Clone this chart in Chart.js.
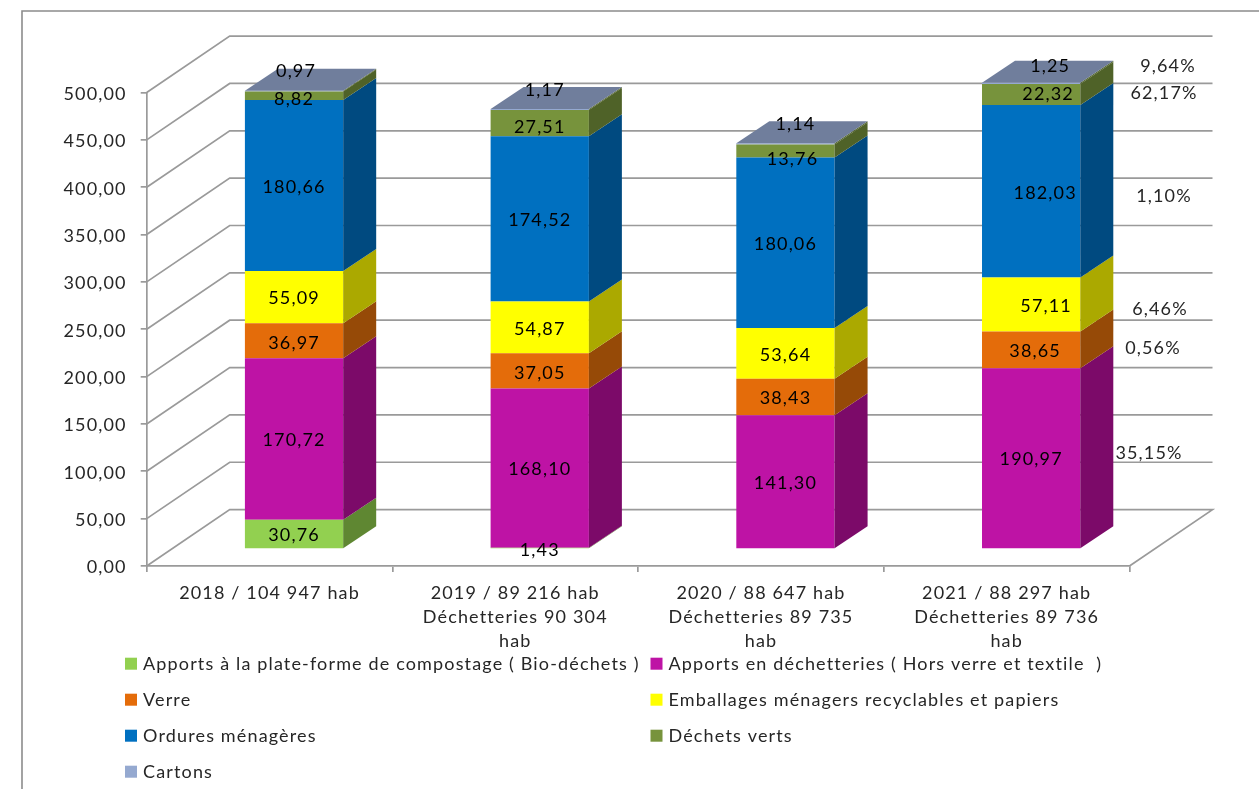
<!DOCTYPE html>
<html lang="fr">
<head>
<meta charset="utf-8">
<title>Tonnages</title>
<script src="https://cdn.jsdelivr.net/npm/chart.js@4/dist/chart.umd.min.js"></script>
<style>html,body{margin:0;padding:0;background:#fff;overflow:hidden}canvas{display:block}</style>
</head>
<body>
<canvas id="c" width="1259" height="789"></canvas>
<script>
const categories = [
  ['2018 / 104 947 hab'],
  ['2019 / 89 216 hab', 'Déchetteries 90 304', 'hab'],
  ['2020 / 88 647 hab', 'Déchetteries 89 735', 'hab'],
  ['2021 / 88 297 hab', 'Déchetteries 89 736', 'hab']
];
const bioDechets = [30.76, 1.43, null, null];
const dechetteries = [170.72, 168.10, 141.30, 190.97];
const verre = [36.97, 37.05, 38.43, 38.65];
const emballages = [55.09, 54.87, 53.64, 57.11];
const ordures = [180.66, 174.52, 180.06, 182.03];
const dechetsVerts = [8.82, 27.51, 13.76, 22.32];
const cartons = [0.97, 1.17, 1.14, 1.25];
const seriesNames = [
  'Apports à la plate-forme de compostage ( Bio-déchets )',
  'Apports en déchetteries ( Hors verre et textile  )',
  'Verre',
  'Emballages ménagers recyclables et papiers',
  'Ordures ménagères',
  'Déchets verts',
  'Cartons'
];
const frontColors = ['#92D050', '#BE13A5', '#E46C0A', '#FFFF00', '#0070C0', '#77933C', '#95A9D0'];
const sideColors = ['#5F8732', '#7C0A69', '#964A07', '#ABA900', '#004A80', '#4F6228', '#4F6228'];
const topColor = '#707E9C';
const shareLabels = ['9,64%', '62,17%', '1,10%', '6,46%', '0,56%', '35,15%'];

const FAMILY = 'Lato, "Open Sans", sans-serif';
const FONT = '18px ' + FAMILY;
const SPACING = '1.15px';
const TEXT = '#262626';
const LINE = '#9A9A9A';
const TEXT_DROP = 1.5;
const fr = v => v.toFixed(2).replace('.', ',');

// 3D projection offsets, in pixels
const WALL = {dx: 83, dy: -56.4};
const BAR = {dx: 24.5, dy: -17};
const DEPTH = {dx: 33, dy: -22};

// nudges of the data labels away from the segment centres: [series][category] = [dx, dy]
const labelNudge = {
  0: {1: [0, 1]},
  2: {0: [0, 1], 1: [0, 1], 3: [4, 0]},
  3: {3: [15, 0]},
  4: {3: [14, 0]},
  5: {0: [0, 2], 1: [0, 3], 2: [7, 7], 3: [17, -2]},
  6: {0: [2, -21], 1: [5, -21], 2: [10, -21], 3: [19, -19]}
};
// places of the free percentage notes
const sharePos = [[1168, 65], [1164, 92], [1164, 195], [1160, 308], [1153, 347], [1149, 452]];

const view3d = {
  id: 'view3d',
  beforeDraw(chart) {
    const c = chart.ctx;
    c.letterSpacing = SPACING;
    // lower the y tick labels a little: this face sits high on its middle line
    const y = chart.scales.y;
    const items = y.getLabelItems(chart.chartArea);
    if (!items._dropped) {
      items.forEach(it => { it.options.translation[1] += TEXT_DROP; });
      items._dropped = true;
    }
    c.save();
    c.fillStyle = '#fff';
    c.fillRect(0, 0, chart.width, chart.height);
    c.strokeStyle = '#8C8C8C';
    c.lineWidth = 1.6;
    c.beginPath();
    c.moveTo(22, chart.height);
    c.lineTo(22, 11);
    c.lineTo(chart.width, 11);
    c.stroke();
    c.restore();
  },
  beforeDatasetsDraw(chart) {
    const c = chart.ctx, y = chart.scales.y, a = chart.chartArea;
    c.save();
    c.strokeStyle = LINE;
    c.lineWidth = 1.7;
    y.ticks.forEach(t => {
      const py = y.getPixelForValue(t.value);
      c.beginPath();
      c.moveTo(a.left, py);
      c.lineTo(a.left + WALL.dx, py + WALL.dy);
      c.lineTo(a.right + WALL.dx, py + WALL.dy);
      if (t.value === 0) c.lineTo(a.right, py);
      c.stroke();
    });
    c.restore();
  },
  beforeDatasetDraw(chart) {
    chart.ctx.save();
    chart.ctx.translate(BAR.dx, BAR.dy);
  },
  afterDatasetDraw(chart) {
    chart.ctx.restore();
  },
  afterDatasetsDraw(chart) {
    const c = chart.ctx;
    c.save();
    c.translate(BAR.dx, BAR.dy);
    const n = chart.data.datasets.length;
    // side faces and top
    for (let d = 0; d < n; d++) {
      const meta = chart.getDatasetMeta(d);
      meta.data.forEach((b, i) => {
        if (chart.data.datasets[d].data[i] == null) return;
        const p = b.getProps(['x', 'y', 'base', 'width'], true);
        const r = p.x + p.width / 2, l = p.x - p.width / 2;
        c.fillStyle = sideColors[d];
        c.beginPath();
        c.moveTo(r, p.y);
        c.lineTo(r + DEPTH.dx, p.y + DEPTH.dy);
        c.lineTo(r + DEPTH.dx, p.base + DEPTH.dy);
        c.lineTo(r, p.base);
        c.closePath();
        c.fill();
        if (d === n - 1) {
          c.fillStyle = topColor;
          c.beginPath();
          c.moveTo(l, p.y);
          c.lineTo(l + DEPTH.dx, p.y + DEPTH.dy);
          c.lineTo(r + DEPTH.dx, p.y + DEPTH.dy);
          c.lineTo(r, p.y);
          c.closePath();
          c.fill();
        }
      });
    }
    // data labels
    c.font = FONT;
    c.fillStyle = '#000';
    c.textAlign = 'center';
    c.textBaseline = 'middle';
    for (let d = 0; d < n; d++) {
      chart.getDatasetMeta(d).data.forEach((b, i) => {
        const v = chart.data.datasets[d].data[i];
        if (v == null) return;
        const p = b.getProps(['x', 'y', 'base'], true);
        const nudge = (labelNudge[d] && labelNudge[d][i]) || [0, 0];
        c.fillText(fr(v), p.x + nudge[0], (p.y + p.base) / 2 + nudge[1] + TEXT_DROP);
      });
    }
    c.restore();
    // percentage notes
    c.save();
    c.font = FONT;
    c.fillStyle = TEXT;
    c.textAlign = 'center';
    c.textBaseline = 'middle';
    shareLabels.forEach((s, i) => c.fillText(s, sharePos[i][0], sharePos[i][1] + TEXT_DROP));
    c.restore();
    // legend, two columns
    c.save();
    c.font = FONT;
    c.textAlign = 'left';
    c.textBaseline = 'middle';
    chart.data.datasets.forEach((ds, i) => {
      const col = i % 2, row = Math.floor(i / 2);
      const mx = col ? 650.5 : 125, ty = 663.7 + row * 36;
      c.fillStyle = ds.backgroundColor;
      c.fillRect(mx, ty - 6, 12, 12);
      c.fillStyle = TEXT;
      c.fillText(ds.label, mx + 18, ty + 0.5);
    });
    c.restore();
  }
};

const values = [bioDechets, dechetteries, verre, emballages, ordures, dechetsVerts, cartons];
new Chart(document.getElementById('c'), {
  type: 'bar',
  data: {
    labels: categories,
    datasets: values.map((data, i) => ({
      label: seriesNames[i],
      data,
      backgroundColor: frontColors[i],
      borderWidth: 0,
      clip: false
    }))
  },
  plugins: [view3d],
  options: {
    responsive: false,
    animation: false,
    devicePixelRatio: 1,
    layout: {padding: {left: 0, top: 92.5, right: 129.5, bottom: 0}},
    plugins: {legend: {display: false}, tooltip: {enabled: false}, title: {display: false}},
    datasets: {bar: {categoryPercentage: 1, barPercentage: 0.4}},
    scales: {
      x: {
        stacked: true,
        afterFit(s) { s.height = 223; },
        grid: {drawOnChartArea: false, drawTicks: true, tickLength: 6, color: LINE, lineWidth: 1.7, offset: true},
        border: {display: true, color: LINE, width: 1.7},
        ticks: {color: TEXT, font: {family: FAMILY, size: 18, lineHeight: 1.33}, padding: 9, maxRotation: 0, autoSkip: false}
      },
      y: {
        stacked: true,
        min: 0,
        max: 500,
        afterFit(s) { s.width = 146.7; },
        grid: {drawOnChartArea: false, drawTicks: true, tickLength: 6, color: LINE, lineWidth: 1.7},
        border: {display: true, color: LINE, width: 1.7},
        ticks: {stepSize: 50, color: TEXT, font: {family: FAMILY, size: 18}, padding: 14, callback: v => fr(v)}
      }
    }
  }
});
</script>
</body>
</html>
